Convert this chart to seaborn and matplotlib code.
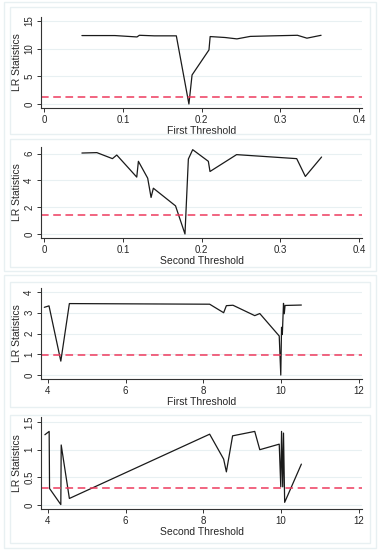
import numpy as np
import pandas as pd
import matplotlib
matplotlib.use("Agg")
import matplotlib.pyplot as plt
import seaborn as sns
from matplotlib.patches import Rectangle

# ==================================================================================================

# Панель 1: первый порог (первая модель)
p1_x = [0.048, 0.067, 0.09, 0.118, 0.121, 0.14, 0.168, 0.184, 0.188, 0.2095, 0.211,
        0.23, 0.245, 0.262, 0.29, 0.322, 0.334, 0.352]
p1_y = [12.35, 12.35, 12.35, 12.1, 12.4, 12.3, 12.3, 0.0, 5.24, 9.76, 12.17,
        12.0, 11.75, 12.2, 12.3, 12.4, 11.88, 12.4]
p1_crit = 1.35

# Панель 2: второй порог (первая модель)
p2_x = [0.048, 0.067, 0.0868, 0.0923, 0.1177, 0.1198, 0.1316, 0.1359, 0.1388, 0.167,
        0.179, 0.1833, 0.1888, 0.2087, 0.2108, 0.2446, 0.321, 0.332, 0.3526]
p2_y = [6.05, 6.08, 5.63, 5.9, 4.25, 5.43, 4.17, 2.73, 3.42, 2.1,
        0.0, 5.6, 6.3, 5.43, 4.67, 5.93, 5.63, 4.3, 5.75]
p2_crit = 1.40

# Панель 3: первый порог (вторая модель)
p3_x = [3.905, 4.026, 4.33, 4.55, 8.16, 8.52, 8.59, 8.76, 9.32, 9.45, 9.95, 9.99,
        10.01, 10.03, 10.06, 10.08, 10.10, 10.52]
p3_y = [3.26, 3.33, 0.67, 3.44, 3.41, 3.0, 3.34, 3.36, 2.86, 2.96, 1.88, 0.0,
        2.3, 1.95, 3.45, 2.95, 3.35, 3.37]
p3_crit = 0.95

# Панель 4: второй порог (вторая модель)
p4_x = [3.92, 4.03, 4.04, 4.33, 4.34, 4.55, 8.16, 8.52, 8.59, 8.75, 9.32, 9.45, 9.95,
        9.99, 10.01, 10.04, 10.06, 10.09, 10.52]
p4_y = [1.27, 1.33, 0.30, 0.01, 1.085, 0.12, 1.28, 0.83, 0.60, 1.25, 1.33, 1.0, 1.10,
        0.33, 1.33, 0.33, 1.30, 0.05, 0.74]
p4_crit = 0.30

xlabels = ["First Threshold", "Second Threshold", "First Threshold", "Second Threshold"]

# ==================================================================================================

sns.set_style("white")
plt.rcParams['font.family'] = ['Liberation Sans', 'DejaVu Sans']

fig = plt.figure(figsize=(3.8, 5.5), dpi=100)
W, H = 380, 550
frame_col = '#E8F0F2'

def px_rect(x0, y0, x1, y1, lw=1.0):
    # прямоугольник в пикселях (начало сверху)
    fig.patches.append(Rectangle((x0 / W, 1 - y1 / H), (x1 - x0) / W, (y1 - y0) / H,
                                 transform=fig.transFigure, fill=False,
                                 edgecolor=frame_col, linewidth=lw, zorder=0))

# Внешние и внутренние рамки в стиле Stata
px_rect(4, 2, 376, 271)
px_rect(4, 275, 376, 548)
px_rect(10, 7, 370, 134)
px_rect(10, 139, 370, 267)
px_rect(10, 282, 370, 407)
px_rect(10, 415, 370, 543)

panels = [
    (p1_x, p1_y, p1_crit, (-0.004, 0.404), (-0.72, 15.7), [0, 0.1, 0.2, 0.3, 0.4],
     ["0", "0.1", "0.2", "0.3", "0.4"], [0, 5, 10, 15], ["0", "5", "10", "15"], 17, 108),
    (p2_x, p2_y, p2_crit, (-0.004, 0.404), (-0.3, 6.5), [0, 0.1, 0.2, 0.3, 0.4],
     ["0", "0.1", "0.2", "0.3", "0.4"], [0, 2, 4, 6], ["0", "2", "4", "6"], 147, 238),
    (p3_x, p3_y, p3_crit, (3.82, 12.08), (-0.19, 4.19), [4, 6, 8, 10, 12],
     ["4", "6", "8", "10", "12"], [0, 1, 2, 3, 4], ["0", "1", "2", "3", "4"], 288, 379),
    (p4_x, p4_y, p4_crit, (3.82, 12.08), (-0.07, 1.59), [4, 6, 8, 10, 12],
     ["4", "6", "8", "10", "12"], [0, 0.5, 1, 1.5], ["0", "0.5", "1", "1.5"], 417, 509),
]

for i, (xs, ys, crit, xlim, ylim, xt, xtl, yt, ytl, top, bot) in enumerate(panels):
    ax = fig.add_axes([41 / W, 1 - bot / H, (362 - 41) / W, (bot - top) / H])
    ax.set_facecolor('white')
    for y in yt:
        ax.axhline(y, color='#E8F0F2', linewidth=0.8, zorder=0)
    df = pd.DataFrame({'x': xs, 'y': ys})
    sns.lineplot(data=df, x='x', y='y', ax=ax, color='#1a1a1a', linewidth=0.9,
                 estimator=None, sort=False)
    ax.axhline(crit, color='#EE3A5E', linewidth=1.1, linestyle=(0, (5, 3)))
    ax.set_xlim(*xlim)
    ax.set_ylim(*ylim)
    ax.set_xticks(xt)
    ax.set_xticklabels(xtl, fontsize=7)
    ax.set_yticks(yt)
    ax.set_yticklabels(ytl, fontsize=7, rotation=90, va='center')
    ax.set_xlabel(xlabels[i], fontsize=7.5, labelpad=1)
    ax.set_ylabel('LR Statistics', fontsize=7.5)
    ax.yaxis.set_label_coords(-0.06, 0.5)
    for s in ['top', 'right']:
        ax.spines[s].set_visible(False)
    for s in ['left', 'bottom']:
        ax.spines[s].set_color('#333333')
        ax.spines[s].set_linewidth(0.8)
    ax.tick_params(axis='both', direction='out', length=2.9, width=0.7, color='#333333',
                   pad=2.0, bottom=True, left=True)

fig.savefig('out.png', dpi=100, facecolor='white')
